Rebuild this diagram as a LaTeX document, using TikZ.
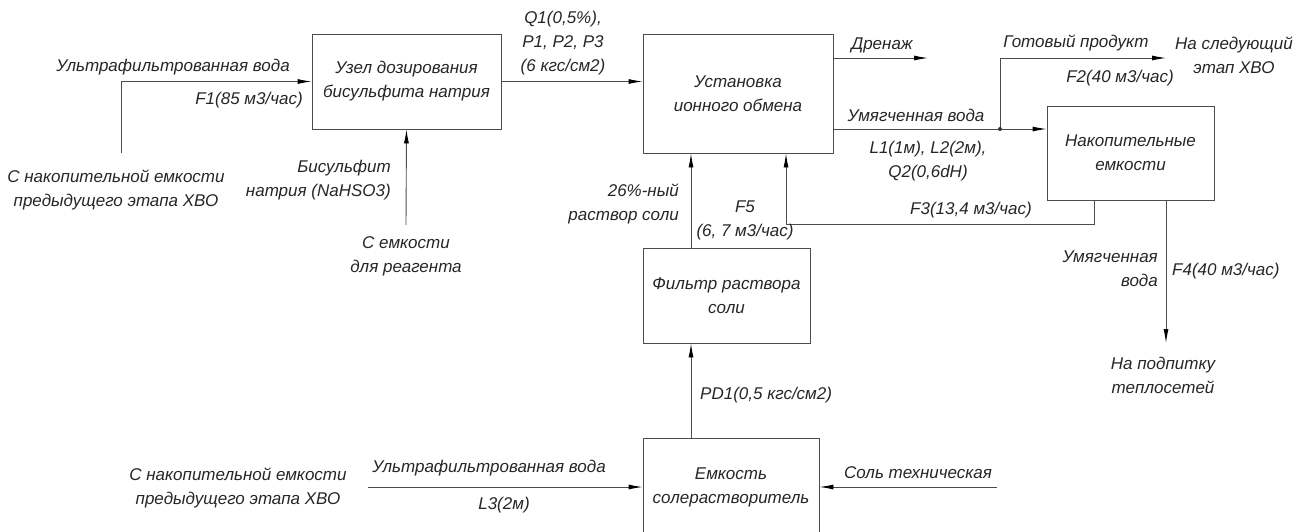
\documentclass[tikz,border=0pt]{standalone}
\usepackage{fontspec}
\setmainfont{Liberation Sans}
\usetikzlibrary{arrows.meta, positioning}

\tikzset{
  block/.style={draw=black!70, line width=0.9pt, align=center, inner sep=0pt},
  flow/.style={->, draw=black!70, line width=0.9pt},
  pipe/.style={draw=black!70, line width=0.9pt},
  lbl/.style={align=center, inner sep=0pt}
}

\begin{document}
\begin{tikzpicture}[x=1pt, y=-1pt, >={Latex[length=14pt,width=5pt,color=black]},
    every node/.style={font=\fontsize{17}{24}\selectfont\itshape, text=black!85}]
    \useasboundingbox (0,0) rectangle (1310,531);

    % Units
    \node[block, minimum width=189pt, minimum height=95pt] (dose) at (406.5,81.5) {Узел дозирования\\бисульфита натрия};
    \node[block, minimum width=190pt, minimum height=119pt] (ionex) at (738,93.5) {Установка\\ионного обмена};
    \node[block, minimum width=167pt, minimum height=94pt] (store) at (1130.5,153) {Накопительные\\емкости};
    \node[block, minimum width=167pt, minimum height=95pt] (filter) at (726.5,295.5) {Фильтр раствора\\соли};
    \node[block, minimum width=176pt, minimum height=98pt] (dissolver) at (731,487) {Емкость\\солерастворитель};

    % Free ends and turns
    \coordinate (srcone) at (121,153);
    \coordinate (reagent) at (406,225);
    \coordinate (drain) at (928,58);
    \coordinate (split) at (1000,129);
    \coordinate (product) at (1166,58);
    \coordinate (fthreeout) at (1094,200);
    \coordinate (fthreeturn) at (786,224);
    \coordinate (makeup) at (1166,343);
    \coordinate (brine) at (691,248);
    \coordinate (srcthree) at (368,487);
    \coordinate (salt) at (997,487);

    % Flows
    \draw[flow] (srcone) |- (dose.west);
    \draw[flow] (reagent) -- (dose.south);
    \draw[flow] (dose.east) -- (dose.east -| ionex.west);
    \draw[flow] (ionex.east |- drain) -- (drain);
    \draw[pipe] (ionex.east |- split) -- (split);
    \draw[flow] (split) -- (split -| store.west);
    \draw[flow] (split) |- (product);
    \fill[black!80] (split) circle (2pt);
    \draw[pipe] (fthreeout) |- (fthreeturn);
    \draw[flow] (fthreeturn) -- (fthreeturn |- ionex.south);
    \draw[flow] (makeup |- store.south) -- (makeup);
    \draw[flow] (brine) -- (brine |- ionex.south);
    \draw[flow] (brine |- dissolver.north) -- (brine |- filter.south);
    \draw[flow] (srcthree) -- (dissolver.west);
    \draw[flow] (salt) -- (dissolver.east);

    % Labels
    \node[lbl] (ufone) at (173,67) {Ультрафильтрованная вода};
    \node[lbl] (fone) at (249,100) {F1(85 м3/час)};
    \node[lbl] (prevone) at (116,189.5) {С накопительной емкости\\предыдущего этапа ХВО};
    \node[lbl, align=right, anchor=east] (bisulf) at (391,180) {Бисульфит\\натрия (NaHSO3)};
    \node[lbl] (tank) at (406,256.5) {С емкости\\для реагента};
    \node[lbl] (qone) at (563,43) {Q1(0,5\%),\\P1, P2, P3\\(6 кгс/см2)};
    \node[lbl] (drainlbl) at (882,45) {Дренаж};
    \node[lbl] (softone) at (916,115) {Умягченная вода};
    \node[lbl] (lone) at (928,161) {L1(1м), L2(2м),\\Q2(0,6dH)};
    \node[lbl] (fthree) at (971,210) {F3(13,4 м3/час)};
    \node[lbl, align=right, anchor=east] (brinelbl) at (679,204) {26\%-ный\\раствор соли};
    \node[lbl] (ffive) at (745,220) {F5\\(6, 7 м3/час)};
    \node[lbl] (ready) at (1076,43) {Готовый продукт};
    \node[lbl] (ftwo) at (1120,78) {F2(40 м3/час)};
    \node[lbl] (next) at (1234,55) {На следующий\\этап ХВО};
    \node[lbl, align=right, anchor=east] (softtwo) at (1158,269) {Умягченная\\вода};
    \node[lbl, anchor=west] (ffour) at (1172,271) {F4(40 м3/час)};
    \node[lbl] (heat) at (1163,375) {На подпитку\\теплосетей};
    \node[lbl, anchor=west] (pdone) at (700,395) {PD1(0,5 кгс/см2)};
    \node[lbl] (prevthree) at (238,487.5) {С накопительной емкости\\предыдущего этапа ХВО};
    \node[lbl] (ufthree) at (489,468) {Ультрафильтрованная вода};
    \node[lbl] (lthree) at (504,505) {L3(2м)};
    \node[lbl] (saltlbl) at (918,473) {Соль техническая};
\end{tikzpicture}
\end{document}
